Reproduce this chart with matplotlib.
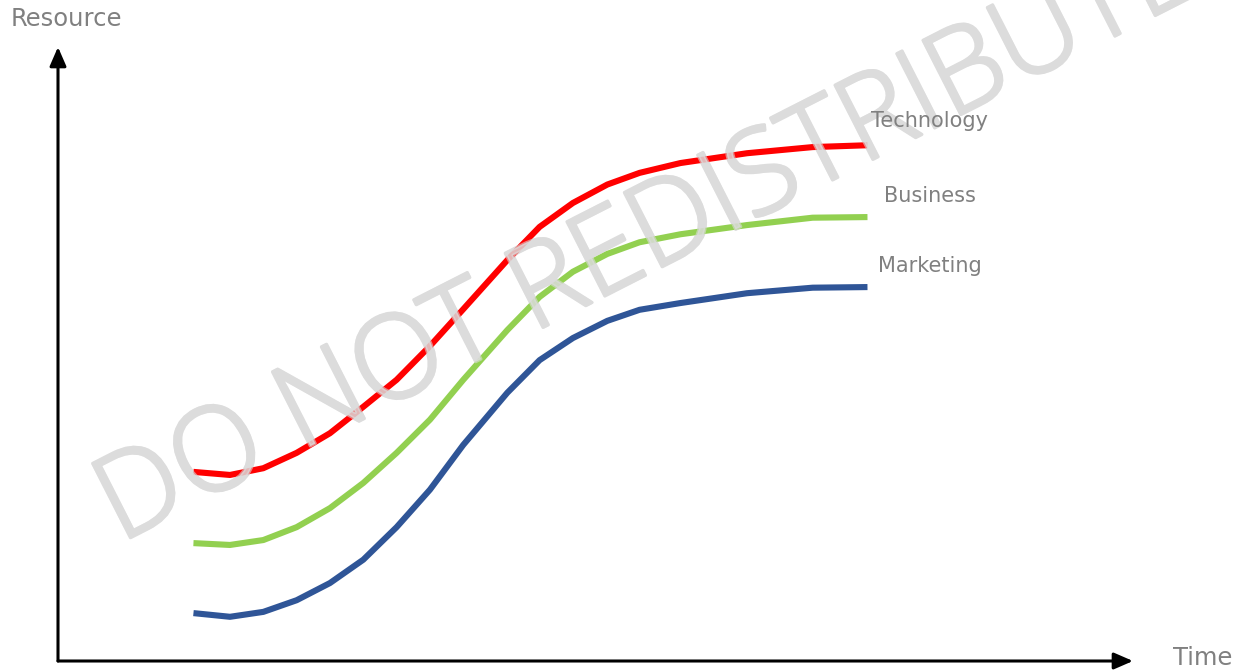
import matplotlib
matplotlib.use("Agg")
import matplotlib.pyplot as plt
import matplotlib.patheffects as pe

# time / resource in axis units (0..100 along each arrow)
time = [12.6, 16.0, 19.1, 22.2, 25.3, 28.4, 31.5, 34.6, 37.7, 41.8, 44.8, 47.9,
        51.1, 54.1, 57.9, 64.1, 70.2, 75.3]
technology = [30.8, 30.3, 31.4, 33.9, 37.1, 41.4, 45.8, 51.3, 57.3, 65.3, 70.7, 74.6,
              77.6, 79.5, 81.1, 82.7, 83.7, 84.0]
business = [19.2, 18.9, 19.7, 21.8, 24.9, 29.0, 33.9, 39.3, 45.8, 53.9, 59.3, 63.4,
            66.3, 68.2, 69.5, 71.0, 72.2, 72.3]
marketing = [7.8, 7.2, 8.0, 9.9, 12.7, 16.5, 21.8, 27.9, 35.2, 43.7, 49.0, 52.6,
             55.4, 57.2, 58.3, 59.9, 60.8, 60.9]

series = [
    ("Technology", technology, "#ff0000", 87.9),
    ("Business", business, "#92d050", 75.7),
    ("Marketing", marketing, "#2f5597", 64.3),
]

FONT = ["DejaVu Sans"]
W, H = 1237, 671

fig = plt.figure(figsize=(W / 100, H / 100), dpi=100)
ax = fig.add_axes([58 / W, 1 - 661 / H, 1075 / W, 614 / H])
ax.set_xlim(0, 100)
ax.set_ylim(0, 100)
ax.axis("off")

for name, vals, color, label_y in series:
    ax.plot(time, vals, color=color, lw=4.4, solid_capstyle="butt", solid_joinstyle="round",
            zorder=2)
    ax.text(81.1, label_y, name, ha="center", va="center", fontsize=15, color="#808080",
            family=FONT, clip_on=False, zorder=6)

arrow = dict(arrowstyle="-|>,head_length=1.15,head_width=0.5", color="black", lw=2.2,
             shrinkA=0, shrinkB=0, mutation_scale=10)
ax.annotate("", xy=(0, 100), xytext=(0, 0), arrowprops=arrow, annotation_clip=False)
ax.annotate("", xy=(100, 0), xytext=(0, 0), arrowprops=arrow, annotation_clip=False)

ax.text(0.8, 104.6, "Resource", ha="center", va="center", fontsize=17.5, color="#808080",
        family=FONT, clip_on=False, zorder=6)
ax.text(106.5, 0.5, "Time", ha="center", va="center", fontsize=17.5, color="#808080",
        family=FONT, clip_on=False, zorder=6)

# watermark: opaque copy under the lines, translucent copy over them
wm_color = "#dcdcdc"
for z, a in [(0, 1.0), (5, 0.6)]:
    ax.text(120 / W, 1 - 543 / H, "DO NOT REDISTRIBUTE", transform=fig.transFigure,
            rotation=27, rotation_mode="anchor", ha="left", va="baseline", fontsize=84,
            fontweight="light", color=wm_color, alpha=a, family=["Open Sans", "DejaVu Sans"],
            zorder=z, path_effects=[pe.withStroke(linewidth=2.2, foreground=wm_color)])

fig.savefig("out.png", dpi=100)
